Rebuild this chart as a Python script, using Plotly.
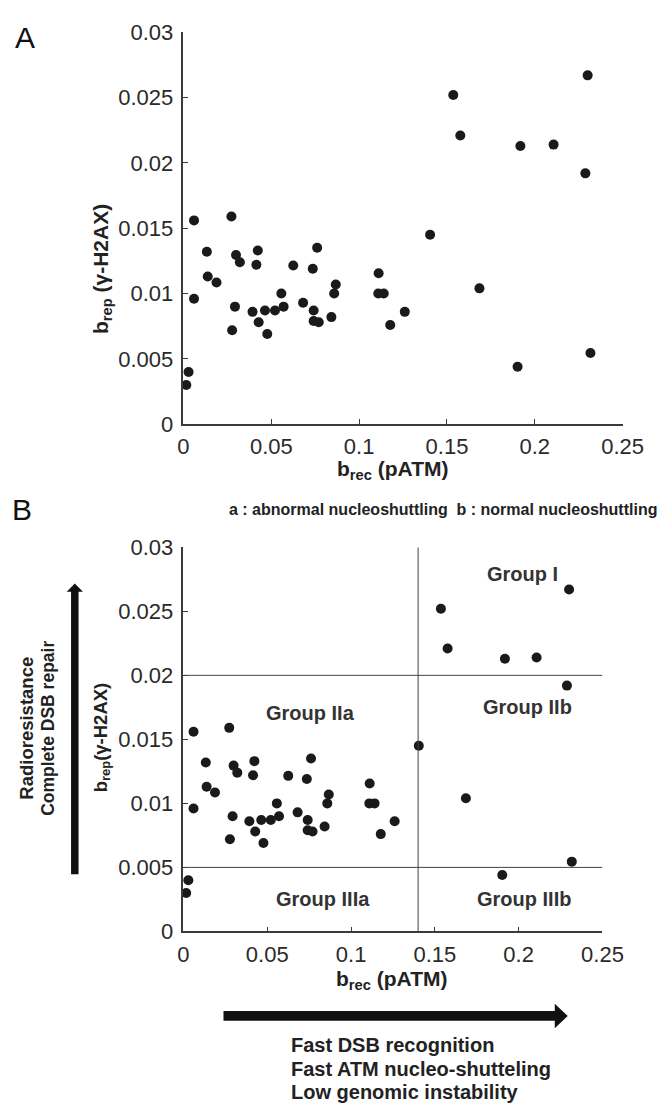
import plotly.graph_objects as go

# ---- data (b_rec (pATM), b_rep (gamma-H2AX)) ----
b_rec = [0.2301, 0.1536, 0.1576, 0.1918, 0.2107, 0.2288, 0.0060, 0.0273, 0.1404, 0.0133,
         0.0299, 0.0321, 0.0423, 0.0415, 0.0761, 0.0625, 0.0736, 0.0138, 0.0188, 0.1111,
         0.0867, 0.0858, 0.0557, 0.1109, 0.1140, 0.1685, 0.0060, 0.0293, 0.0570, 0.0681,
         0.0393, 0.0464, 0.0521, 0.0741, 0.1260, 0.0428, 0.0741, 0.0770, 0.0842, 0.1177,
         0.0277, 0.0477, 0.2317, 0.1902, 0.0029, 0.0016]
b_rep = [0.0267, 0.0252, 0.0221, 0.0213, 0.0214, 0.0192, 0.0156, 0.0159, 0.0145, 0.0132,
         0.01295, 0.0124, 0.0133, 0.0122, 0.0135, 0.01215, 0.0119, 0.0113, 0.01085, 0.01155,
         0.0107, 0.0100, 0.0100, 0.0100, 0.0100, 0.0104, 0.0096, 0.0090, 0.0090, 0.0093,
         0.0086, 0.0087, 0.0087, 0.0087, 0.0086, 0.0078, 0.0079, 0.0078, 0.0082, 0.0076,
         0.0072, 0.0069, 0.00545, 0.0044, 0.0040, 0.0030]

x_ticks = [0, 0.05, 0.1, 0.15, 0.2, 0.25]
y_ticks = [0, 0.005, 0.01, 0.015, 0.02, 0.025, 0.03]
x_cut = 0.14
y_cuts = [0.005, 0.02]
group_names = ["Group I", "Group IIa", "Group IIb", "Group IIIa", "Group IIIb"]
group_x = [0.202, 0.076, 0.205, 0.083, 0.203]
group_y = [0.0279, 0.01705, 0.0175, 0.0025, 0.0025]

W, H = 665, 1115
FONT = "Liberation Sans, Arial, sans-serif"
DARK = "#222222"
AX = "#3a3a3a"


def px(x):
    return x / W


def py(y):
    return 1 - y / H


fig = go.Figure()
for xa, ya in [("x", "y"), ("x2", "y2")]:
    fig.add_trace(go.Scatter(x=b_rec, y=b_rep, mode="markers", xaxis=xa, yaxis=ya,
                             marker=dict(size=10, color="#1a1a1a"), cliponaxis=False,
                             showlegend=False))

axis_common = dict(showgrid=False, zeroline=False, showline=True, linecolor=AX, linewidth=1.5,
                   ticks="inside", ticklen=5, tickcolor=AX, tickwidth=1.2,
                   tickfont=dict(family=FONT, size=22, color="#2a2a2a"))

fig.update_layout(
    width=W, height=H, margin=dict(l=0, r=0, t=0, b=0),
    paper_bgcolor="white", plot_bgcolor="white",
    xaxis=dict(domain=[px(185), px(642.7)], range=[0, 0.25], tickvals=x_ticks, anchor="y",
               ticklabelstandoff=2, **axis_common),
    yaxis=dict(domain=[py(421.7), py(20.7)], range=[0, 0.03], tickvals=y_ticks, anchor="x",
               ticklabelstandoff=4, **axis_common),
    xaxis2=dict(domain=[px(185), px(621.7)], range=[0, 0.25], tickvals=x_ticks, anchor="y2",
                ticklabelstandoff=2, **axis_common),
    yaxis2=dict(domain=[py(940.5), py(547.6)], range=[0, 0.03], tickvals=y_ticks, anchor="x2",
                ticklabelstandoff=4, **axis_common),
)

# reference lines in panel B
for yc in y_cuts:
    fig.add_shape(type="line", xref="x2", yref="y2", x0=0, x1=0.25, y0=yc, y1=yc,
                  line=dict(color="#444444", width=1))
fig.add_shape(type="line", xref="x2", yref="y2", x0=x_cut, x1=x_cut, y0=0, y1=0.03,
              line=dict(color="#444444", width=1))

# group labels
for name, gx, gy in zip(group_names, group_x, group_y):
    fig.add_annotation(x=gx, y=gy, xref="x2", yref="y2", text="<b>%s</b>" % name,
                       showarrow=False, font=dict(family=FONT, size=20, color="#333333"))


def ann(x, y, text, size, angle=0, align="center", xanchor="center", color=DARK):
    fig.add_annotation(x=px(x), y=py(y), xref="paper", yref="paper", text=text,
                       showarrow=False, textangle=angle, align=align, xanchor=xanchor,
                       yanchor="middle", font=dict(family=FONT, size=size, color=color))


# axis titles
ann(403, 469, "<b>b<sub>rec</sub> (pATM)</b>", 21)
ann(402, 990, "<b>b<sub>rec</sub> (pATM)</b>", 21)
ann(100, 263, "<b>b<sub>rep</sub> (γ-H2AX)</b>", 21, angle=-90)
ann(100, 742, "<b>b<sub>rep</sub>(γ-H2AX)</b>", 18.5, angle=-90)

# panel letters
ann(20, 26, "A", 30, color="#111111")
ann(17, 509, "B", 30, color="#111111")

# panel B header
ann(456, 509, "<b>a : abnormal nucleoshuttling  b : normal nucleoshuttling</b>", 16)

# side labels
ann(21, 733, "<b>Radioresistance</b>", 18.5, angle=-90)
ann(43, 733, "<b>Complete DSB repair</b>", 17.5, angle=-90)

# bottom labels
ann(295, 1057, "<b>Fast DSB recognition</b>", 20, align="left", xanchor="left")
ann(295, 1081, "<b>Fast ATM nucleo-shutteling</b>", 20, align="left", xanchor="left")
ann(295, 1105, "<b>Low genomic instability</b>", 20, align="left", xanchor="left")

# vertical arrow
fig.add_shape(type="rect", xref="paper", yref="paper", x0=px(67.8), x1=px(75.6),
              y0=py(882), y1=py(592), fillcolor="#111111", line=dict(width=0))
fig.add_shape(type="path", xref="paper", yref="paper",
              path="M %f %f L %f %f L %f %f Z" % (px(63.3), py(593), px(80.2), py(593),
                                                   px(71.7), py(584.5)),
              fillcolor="#111111", line=dict(width=0))
# horizontal arrow
fig.add_shape(type="rect", xref="paper", yref="paper", x0=px(226.7), x1=px(573),
              y0=py(1032), y1=py(1022), fillcolor="#111111", line=dict(width=0))
fig.add_shape(type="path", xref="paper", yref="paper",
              path="M %f %f L %f %f L %f %f Z" % (px(572), py(1014.5), px(572), py(1039.5),
                                                   px(585.5), py(1027)),
              fillcolor="#111111", line=dict(width=0))

fig.write_html("out.html")
